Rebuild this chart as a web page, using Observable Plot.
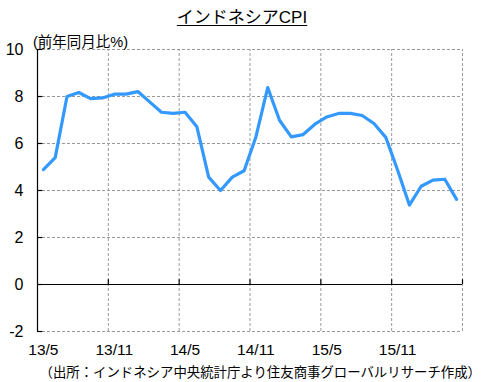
<!DOCTYPE html>
<html><head><meta charset="utf-8">
<script src="https://cdn.jsdelivr.net/npm/d3@7"></script>
<script src="https://cdn.jsdelivr.net/npm/@observablehq/plot@0.6"></script>
<style>
body{margin:0;background:#fff;}
#wrap{position:relative;width:484px;height:382px;overflow:hidden;}
.t{position:absolute;white-space:nowrap;color:#000;font-family:"Liberation Sans","Noto Sans CJK JP",sans-serif;}
#title{left:0;width:484px;top:3px;text-align:center;font-size:17px;text-decoration:underline;text-underline-offset:2px;}
#ylab{left:33px;top:30px;font-size:14.5px;}
#cap{right:3px;top:361px;font-size:13.4px;}
</style></head>
<body><div id="wrap">
<div class="t" id="title">インドネシアCPI</div>
<div class="t" id="ylab">(前年同月比%)</div>
<div class="t" id="cap">（出所：インドネシア中央統計庁より住友商事グローバルリサーチ作成）</div>
</div>
<script>
const months = ["13/5","13/6","13/7","13/8","13/9","13/10","13/11","13/12",
  "14/1","14/2","14/3","14/4","14/5","14/6","14/7","14/8","14/9","14/10","14/11","14/12",
  "15/1","15/2","15/3","15/4","15/5","15/6","15/7","15/8","15/9","15/10","15/11","15/12",
  "16/1","16/2","16/3","16/4"];
const cpi = [4.89,5.40,8.00,8.17,7.91,7.94,8.10,8.10,
  8.21,7.77,7.33,7.28,7.33,6.71,4.57,4.00,4.57,4.84,6.28,8.38,
  6.99,6.28,6.38,6.82,7.13,7.28,7.28,7.19,6.85,6.26,4.87,3.38,
  4.18,4.44,4.48,3.62];
const tickLabels = ["13/5","13/11","14/5","14/11","15/5","15/11"];
const yTicks = [-2,0,2,4,6,8,10];

const data = months.map((m,i)=>({i, m, v: cpi[i]}));
const tickIdx = tickLabels.map(l => months.indexOf(l));
const bounds = d3.range(1, months.length/6 + 1).map(k => k*6 - 0.5);
const gridStyle = {stroke:"#9a9a9a", strokeDasharray:"3,2", strokeWidth:1};

const chart = Plot.plot({
  width:484, height:382,
  marginLeft:37, marginRight:22, marginTop:49, marginBottom:51,
  style:{fontFamily:"'Liberation Sans', sans-serif", fontSize:"15px", background:"transparent", color:"#000"},
  x:{domain:[-0.5, months.length-0.5], axis:null},
  y:{domain:[-2,10], axis:null},
  marks:[
    Plot.ruleY(yTicks.filter(d=>d!==0), {...gridStyle, x1:-0.5, x2:months.length-0.5}),
    Plot.ruleX(bounds, {...gridStyle, y1:-2, y2:10}),
    Plot.ruleY([0], {x1:-0.5, x2:months.length-0.5, stroke:"#000", strokeWidth:1.2}),
    Plot.ruleX([-0.5], {y1:-2, y2:10, stroke:"#000", strokeWidth:1.2}),
    Plot.ruleY(yTicks, {x1:-0.5, x2:-0.05, stroke:"#000", strokeWidth:1.2}),
    Plot.ruleX(bounds, {y1:0, y2:0.2, stroke:"#000", strokeWidth:1.2}),
    Plot.text(yTicks, {x:-0.5, y:d=>d, text:d=>String(d), textAnchor:"end", dx:-14, fontSize:16}),
    Plot.text(tickIdx, {x:d=>d, y:-2, text:(d,j)=>tickLabels[j], dy:19, fontSize:15.5}),
    Plot.line(data, {x:"i", y:"v", stroke:"#3399ff", strokeWidth:3.2, strokeLinejoin:"round"})
  ]
});
chart.style.position="absolute"; chart.style.left="0"; chart.style.top="0";
document.getElementById("wrap").prepend(chart);
</script>
</body></html>
